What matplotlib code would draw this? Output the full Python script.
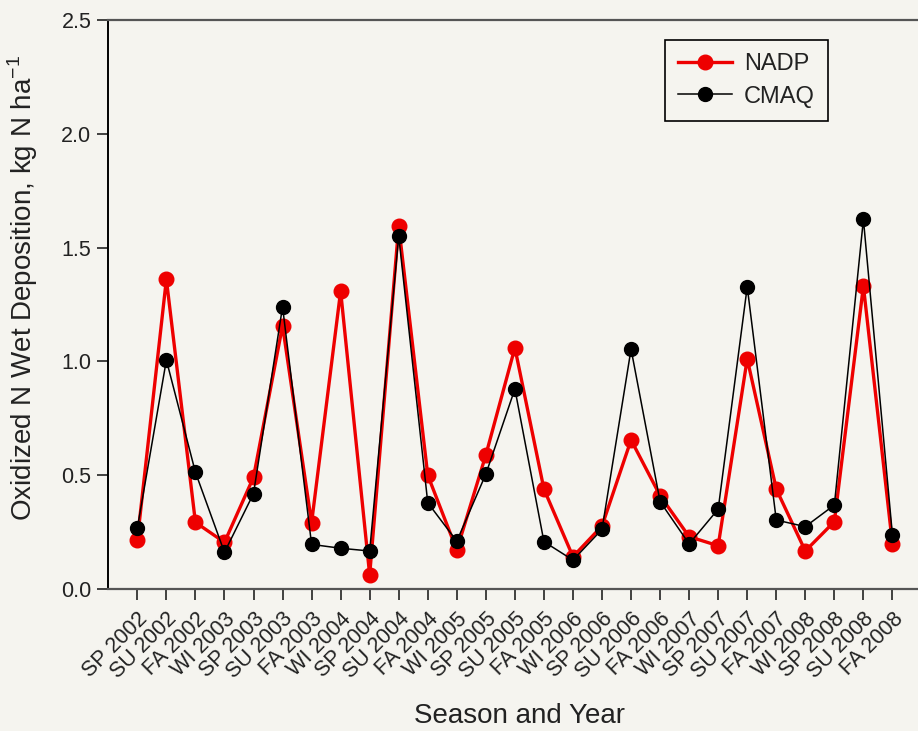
import matplotlib
matplotlib.use("Agg")
import matplotlib.pyplot as plt

plt.rcParams['font.family'] = ['Liberation Sans', 'DejaVu Sans']

seasons = ["SP 2002", "SU 2002", "FA 2002", "WI 2003", "SP 2003", "SU 2003", "FA 2003",
           "WI 2004", "SP 2004", "SU 2004", "FA 2004", "WI 2005", "SP 2005", "SU 2005",
           "FA 2005", "WI 2006", "SP 2006", "SU 2006", "FA 2006", "WI 2007", "SP 2007",
           "SU 2007", "FA 2007", "WI 2008", "SP 2008", "SU 2008", "FA 2008"]
nadp = [0.215, 1.361, 0.293, 0.205, 0.491, 1.157, 0.291, 1.309, 0.062, 1.595, 0.500,
        0.171, 0.589, 1.060, 0.439, 0.142, 0.277, 0.655, 0.410, 0.230, 0.190, 1.011,
        0.439, 0.167, 0.296, 1.331, 0.198]
cmaq = [0.267, 1.006, 0.513, 0.161, 0.419, 1.240, 0.196, 0.179, 0.167, 1.551, 0.379,
        0.210, 0.505, 0.879, 0.208, 0.127, 0.262, 1.054, 0.384, 0.198, 0.351, 1.328,
        0.303, 0.274, 0.369, 1.624, 0.237]

bg = '#f5f4ef'
fig = plt.figure(figsize=(9.18, 7.31), dpi=100, facecolor=bg)
ax = fig.add_axes([108/918, 1 - 589/731, 1 - 108/918, (589 - 20)/731])
ax.set_facecolor(bg)

x = list(range(len(seasons)))
ax.plot(x, nadp, color='#ee0000', lw=2.4, marker='o', ms=10.5, mec='#ee0000',
        mfc='#ee0000', label='NADP', zorder=3)
ax.plot(x, cmaq, color='black', lw=1.1, marker='o', ms=10, mec='black',
        mfc='black', label='CMAQ', zorder=4)

ax.set_xlim(-1.01, 26.88)
ax.set_ylim(0, 2.5)
ax.set_yticks([0, 0.5, 1.0, 1.5, 2.0, 2.5])
ax.set_yticklabels(['0.0', '0.5', '1.0', '1.5', '2.0', '2.5'])
ax.set_xticks(x)
ax.set_xticklabels(seasons, rotation=45, ha='right', rotation_mode='anchor')

ax.tick_params(axis='both', direction='out', length=8, width=1.2, labelsize=15.5,
               colors='#222222')
ax.tick_params(axis='x', pad=6)
ax.tick_params(axis='y', pad=4)

ax.spines['left'].set_color('black')
ax.spines['left'].set_linewidth(1.4)
for s in ['top', 'bottom']:
    ax.spines[s].set_color('#555555')
    ax.spines[s].set_linewidth(1.6)
ax.spines['right'].set_visible(False)

ax.set_ylabel('Oxidized N Wet Deposition, kg N ha$^{\\mathregular{-1}}$', fontsize=20,
              color='#222222')
ax.yaxis.set_label_coords((40 - 108) / 810, (589 - 288) / 569)
ax.set_xlabel('Season and Year', fontsize=20, color='#222222')
ax.xaxis.set_label_coords((520 - 108) / 810, (589 - 703) / 569)

leg = ax.legend(loc='upper left', bbox_to_anchor=((665 - 108) / 810, (589 - 40) / 569),
                borderaxespad=0, fontsize=17, frameon=True, fancybox=False, borderpad=0.55,
                handlelength=2.3, handletextpad=0.5, labelspacing=0.45)
leg.get_frame().set_edgecolor('black')
leg.get_frame().set_linewidth(1.2)
leg.get_frame().set_facecolor(bg)
leg.get_frame().set_alpha(1)
for t in leg.get_texts():
    t.set_color('#222222')

fig.savefig('out.png', dpi=100, facecolor=bg)
